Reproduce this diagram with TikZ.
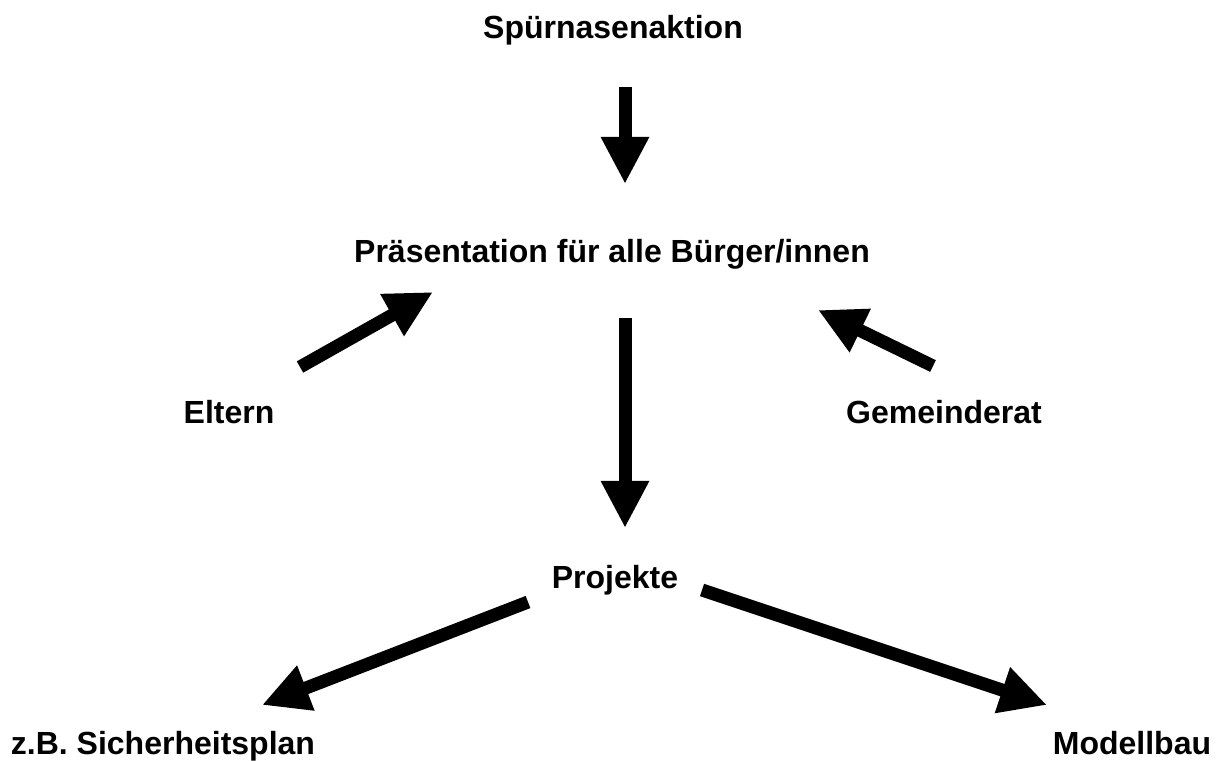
\documentclass[tikz,border=0pt]{standalone}
\usepackage{fontspec}
\setmainfont{Liberation Sans}
\usetikzlibrary{arrows.meta}

\tikzset{
  pfeil/.style={line width=0.13cm, -{Triangle[length=0.47cm,width=0.45cm]}},
  stufe/.style={anchor=base, font=\fontsize{9.1pt}{11pt}\selectfont\bfseries, inner sep=0pt}
}

\begin{document}
\begin{tikzpicture}[x=0.01cm,y=-0.01cm]
  \useasboundingbox (0,0) rectangle (1221,760);
  % Texte
  \node[stufe] (spur) at (613,38) {Spürnasenaktion};
  \node[stufe] (praes) at (612,262) {Präsentation für alle Bürger/innen};
  \node[stufe] (eltern) at (229,423) {Eltern};
  \node[stufe] (gemrat) at (944,423) {Gemeinderat};
  \node[stufe] (proj) at (615,588) {Projekte};
  \node[stufe] (sicher) at (163,754) {z.B. Sicherheitsplan};
  \node[stufe] (modell) at (1132,754) {Modellbau};
  % Pfeilenden
  \coordinate (spur-a) at (625,87);    \coordinate (praes-e) at (625,184);
  \coordinate (eltern-a) at (300,367); \coordinate (eltern-e) at (433,292);
  \coordinate (gemrat-a) at (933,366); \coordinate (gemrat-e) at (818,310);
  \coordinate (praes-a) at (625,318);  \coordinate (proj-e) at (625,528);
  \coordinate (proj-l) at (528,602);   \coordinate (sicher-e) at (262,705);
  \coordinate (proj-r) at (702,590);   \coordinate (modell-e) at (1047,705);
  % Pfeile
  \draw[pfeil] (spur-a) -- (praes-e);
  \draw[pfeil] (eltern-a) -- (eltern-e);
  \draw[pfeil] (gemrat-a) -- (gemrat-e);
  \draw[pfeil] (praes-a) -- (proj-e);
  \draw[pfeil] (proj-l) -- (sicher-e);
  \draw[pfeil] (proj-r) -- (modell-e);
\end{tikzpicture}
\end{document}
